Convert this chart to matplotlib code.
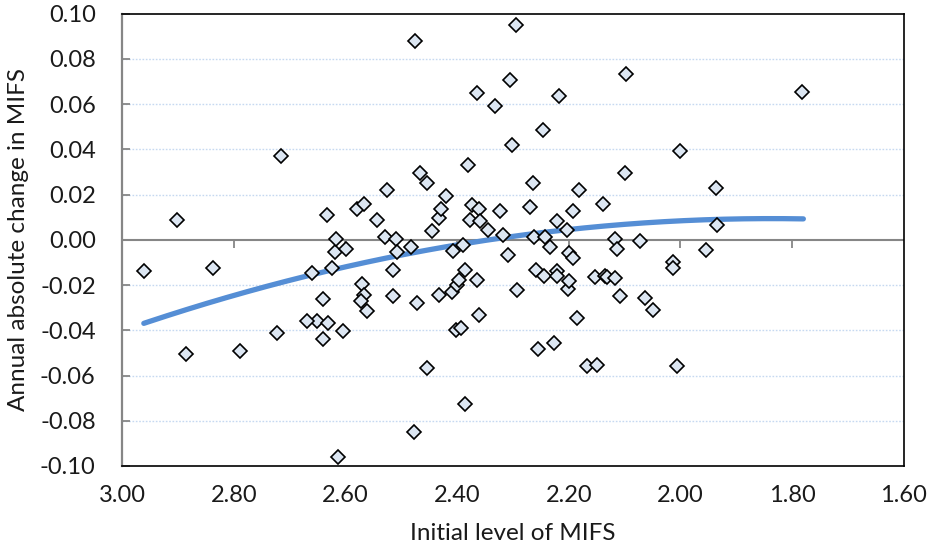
import matplotlib
matplotlib.use("Agg")
import matplotlib.pyplot as plt
import numpy as np

# initial level of MIFS (x) and annual absolute change (y)
initial_level = [
    2.961, 2.902, 2.886, 2.838, 2.788, 2.722, 2.715, 2.659, 2.650, 2.669,
    2.641, 2.641, 2.633, 2.632, 2.624, 2.619, 2.616, 2.613, 2.605, 2.599,
    2.579, 2.566, 2.570, 2.566, 2.572, 2.562, 2.544, 2.526, 2.529, 2.514,
    2.515, 2.509, 2.508, 2.483, 2.475, 2.478, 2.472, 2.466, 2.454, 2.454,
    2.445, 2.432, 2.433, 2.429, 2.420, 2.410, 2.407, 2.402, 2.400, 2.396,
    2.393, 2.389, 2.386, 2.386, 2.380, 2.377, 2.374, 2.364, 2.364, 2.361,
    2.361, 2.359, 2.344, 2.333, 2.324, 2.317, 2.308, 2.305, 2.302, 2.294,
    2.292, 2.270, 2.264, 2.262, 2.259, 2.256, 2.247, 2.245, 2.242, 2.234,
    2.226, 2.222, 2.222, 2.222, 2.217, 2.204, 2.202, 2.199, 2.199, 2.193,
    2.192, 2.186, 2.181, 2.168, 2.153, 2.149, 2.138, 2.135, 2.131, 2.117,
    2.117, 2.114, 2.108, 2.100, 2.098, 2.073, 2.063, 2.050, 2.014, 2.013,
    2.006, 2.000, 1.955, 1.936, 1.934, 1.782,
]
annual_change = [
    -0.0138, 0.0089, -0.0507, -0.0123, -0.0492, -0.0412, 0.0370, -0.0147, -0.0360, -0.0360,
    -0.0260, -0.0437, 0.0108, -0.0368, -0.0123, -0.0054, 0.0005, -0.0961, -0.0403, -0.0039,
    0.0138, 0.0157, -0.0197, -0.0246, -0.0272, -0.0315, 0.0086, 0.0219, 0.0010, -0.0132,
    -0.0250, 0.0002, -0.0054, -0.0032, 0.0880, -0.0850, -0.0280, 0.0296, 0.0249, -0.0567,
    0.0037, -0.0246, 0.0094, 0.0138, 0.0192, -0.0231, -0.0050, -0.0397, -0.0198, -0.0176,
    -0.0388, -0.0024, -0.0132, -0.0725, 0.0330, 0.0089, 0.0153, 0.0647, -0.0176, 0.0134,
    -0.0331, 0.0082, 0.0045, 0.0592, 0.0127, 0.0020, -0.0069, 0.0706, 0.0418, 0.0950,
    -0.0220, 0.0145, 0.0249, 0.0010, -0.0132, -0.0485, 0.0485, -0.0160, 0.0010, -0.0032,
    -0.0457, 0.0083, -0.0138, -0.0160, 0.0636, 0.0042, -0.0219, -0.0182, -0.0058, 0.0127,
    -0.0080, -0.0344, 0.0219, -0.0560, -0.0165, -0.0555, 0.0160, -0.0162, -0.0165, 0.0005,
    -0.0167, -0.0039, -0.0250, 0.0296, 0.0732, -0.0005, -0.0258, -0.0311, -0.0098, -0.0127,
    -0.0560, 0.0393, -0.0046, 0.0231, 0.0067, 0.0651,
]

# points read along the polynomial trend line shown in the chart
trend_x = [2.961, 2.807, 2.628, 2.466, 2.287, 2.126, 1.947, 1.857, 1.780]
trend_y = [-0.0374, -0.0238, -0.0142, -0.0061, 0.0020, 0.0072, 0.0089, 0.0094, 0.0089]

x_ticks = [3.00, 2.80, 2.60, 2.40, 2.20, 2.00, 1.80, 1.60]
y_ticks = [-0.10, -0.08, -0.06, -0.04, -0.02, 0.00, 0.02, 0.04, 0.06, 0.08, 0.10]

FONT = "Lato"
AXIS_GREY = "#868686"
TEXT = "#1a1a1a"

x = np.asarray(initial_level)
y = np.asarray(annual_change)

fig = plt.figure(figsize=(9.28, 5.52), dpi=100)
ax = fig.add_axes([0.1315, 0.1558, 0.8425, 0.8197])

ax.set_xlim(3.00, 1.60)
ax.set_ylim(-0.10, 0.10)

# gridlines (light blue, dotted)
for yt in y_ticks:
    if abs(yt) > 1e-9 and abs(abs(yt) - 0.10) > 1e-9:
        ax.axhline(yt, color="#c6d9f1", linewidth=1.0, linestyle=(0, (1.2, 1.2)), zorder=1)

# horizontal axis line at zero with downward tick marks
ax.axhline(0.0, color=AXIS_GREY, linewidth=1.5, zorder=2)
ax.plot(x_ticks[1:-1], [0.0] * (len(x_ticks) - 2), linestyle="none",
        marker=3, markersize=6, markeredgewidth=1.3, color=AXIS_GREY, zorder=2)

# second-order polynomial trend line
coef = np.polyfit(trend_x, trend_y, 2)
xs = np.linspace(min(trend_x), max(trend_x), 200)
ax.plot(xs, np.polyval(coef, xs), color="#558ed5", linewidth=3.8,
        solid_capstyle="round", zorder=3)

ax.plot(x, y, linestyle="none", marker="D", markersize=7.2,
        markerfacecolor="#dce6f2", markeredgecolor="black", markeredgewidth=1.2,
        zorder=4)

for side in ["top", "right", "bottom"]:
    ax.spines[side].set_color("black")
    ax.spines[side].set_linewidth(1.2)
ax.spines["left"].set_color(AXIS_GREY)
ax.spines["left"].set_linewidth(1.6)

ax.set_xticks(x_ticks)
ax.set_xticklabels([f"{v:.2f}" for v in x_ticks])
ax.set_yticks(y_ticks)
ax.set_yticklabels([f"{v:.2f}" for v in y_ticks])
ax.tick_params(axis="x", length=0, pad=14, labelsize=17)
ax.tick_params(axis="y", direction="in", length=6, width=1.3, color=AXIS_GREY,
               pad=19, labelsize=17)
for lbl in ax.get_xticklabels() + ax.get_yticklabels():
    lbl.set_fontfamily(FONT)
    lbl.set_color(TEXT)

ax.set_xlabel("Initial level of MIFS", fontsize=17.5, fontfamily=FONT,
              color=TEXT, labelpad=12)
ax.set_ylabel("Annual absolute change in MIFS", fontsize=17.5, fontfamily=FONT,
              color=TEXT, labelpad=8)

fig.savefig("out.png", dpi=100)
